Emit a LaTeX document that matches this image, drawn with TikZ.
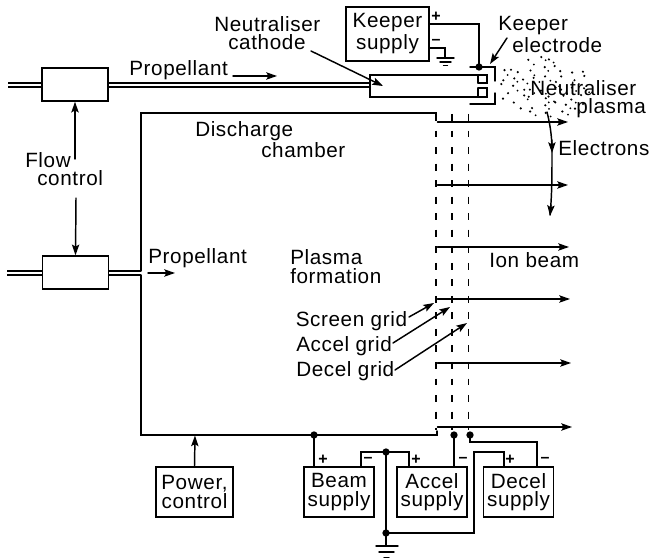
\documentclass[tikz,border=0pt]{standalone}
\usepackage{fontspec}
\setmainfont[LetterSpace=3.0]{Liberation Sans}
\usetikzlibrary{arrows.meta,calc}
\tikzset{
  x=0.75pt,y=-0.75pt,
  ln/.style={line width=1.1pt,line cap=round,line join=miter},
  thin ln/.style={line width=0.9pt},
  arr/.style={ln,-{Stealth[length=8pt,width=5.5pt,inset=1.5pt]}},
  box/.style={draw,line width=1.1pt,inner sep=0pt,minimum width=#1,align=center},
  grid line/.style={line width=1.1pt,dash pattern=on 5.2pt off 7.2pt},
  lab/.style={font=\fontsize{15.5pt}{15pt}\selectfont,inner sep=0pt,anchor=base west},
  sign/.style={font=\bfseries\fontsize{12pt}{12pt}\selectfont,inner sep=0pt},
  dot/.style={circle,fill=black,inner sep=0pt,minimum size=5.5pt},
  twoline/.style={font=\fontsize{15.5pt}{14pt}\selectfont}
}
\begin{document}
\begin{tikzpicture}
\useasboundingbox (0,0) rectangle (653,559);
% flow control boxes
\node[box=49.5pt,minimum height=24.75pt] (fc1) at (75,84.5) {};
\node[box=49.5pt,minimum height=24.75pt] (fc2) at (75.5,272.5) {};
% cathode and small inserts
\coordinate (catTL) at (370,75); \coordinate (catBL) at (370,97);
\coordinate (catTR) at (487,75); \coordinate (catBR) at (487,97);
\draw[ln] (478,83) -- (487,83) -- (catTR) -- (catTL) -- (catBL) -- (catBR) -- (487,88) -- (478,88);
\draw[ln] (478,75) -- (478,83) (478,88) -- (478,97);
% pipes
\foreach \y in {83,87}{
  \draw[thin ln] (8,\y) -- (42.5,\y) (107.5,\y) -- (370,\y);
}
\foreach \y in {271,275}{
  \draw[thin ln] (7,\y) -- (43,\y) (108,\y) -- (141,\y);
}
% chamber
\coordinate (chTL) at (141,113); \coordinate (chBL) at (141,435);
\coordinate (chTR) at (436,113); \coordinate (chBR) at (437,435);
\draw[ln] (436,118) -- (chTR) -- (chTL) -- (141,271) (141,275) -- (chBL) -- (chBR) -- (437,431);
% grids
\foreach \x in {436,452,468.5}{
  \draw[grid line] (\x,114) -- (\x,430);
}
% ion beam arrows
\foreach \y/\e in {122/568,185/568,247/569,299/570,363/571,427/572}{
  \draw[arr] (437.5,\y) -- (\e,\y);
}
% labels main
\node[lab] at (129,76) {Propellant};
\node[lab] (dis) at (195,137) {Discharge};
\node[lab] at (261,158) {chamber};
\node[lab] at (148,264) {Propellant};
\node[lab] at (290,265) {Plasma};
\node[lab] at (290,284) {formation};
\node[lab] (sg) at (295.5,327) {Screen grid};
\node[lab] (ag) at (296,352) {Accel grid};
\node[lab] (dg) at (296,377) {Decel grid};
\node[lab] at (489,268) {Ion beam};
\node[lab] at (558,156) {Electrons};
\node[lab] at (25,168) {Flow};
\node[lab] at (37,186) {control};
\node[lab] at (498,31) {Keeper};
\node[lab] at (512,53) {electrode};
% plasma dots
\pgfmathsetseed{23}
\foreach \gx in {0,...,9}{
  \foreach \gy in {0,...,6}{
    \pgfmathsetmacro{\px}{497+\gx*10.3+rnd*8}
    \pgfmathsetmacro{\py}{57+\gy*9+rnd*7}
    \pgfmathparse{((\px-543.5)/48)^2+((\py-87)/31)^2<1 ? 1 : 0}
    \ifnum\pgfmathresult=1
      \fill (\px,\py) circle (0.9pt);
      \pgfmathsetmacro{\qx}{\px+3+rnd*3}
      \pgfmathsetmacro{\qy}{\py+3+rnd*2}
      \pgfmathparse{rnd<0.55 ? 1 : 0}
      \ifnum\pgfmathresult=1
        \fill (\qx,\qy) circle (0.75pt);
      \fi
    \fi
  }
}
\node[lab] at (530,96) {Neutraliser};
\node[lab] at (576,114) {plasma};
\node[lab] at (214,32) {Neutraliser};
\node[lab] at (228,50) {cathode};
% propellant arrows
\coordinate (p1a) at (233,76); \coordinate (p1b) at (277,76);
\draw[arr] (p1a) -- (p1b);
\coordinate (p2a) at (148,273); \coordinate (p2b) at (175,273);
\draw[arr] (p2a) -- (p2b);
% flow control arrows
\coordinate (f1) at (75,159); \coordinate (f2) at (76,198);
\draw[arr] (f1) -- (fc1.south);
\draw[arr] (f2) -- (fc2.north);
% pointers
\draw[arr] (409,317) -- (434,303);
\draw[arr] (393,343) -- (450,307);
\draw[arr] (395,370) -- (467,323);
\draw[arr] (507,38) -- (490,64);
\draw[arr] (311,51) -- (383,86);
% electron curve
\draw[ln] (547,112) .. controls (551,128) and (552,140) .. (552,152) .. controls (552,175) and (552,195) .. (550,215);
\draw[arr] (551.9,140) -- (552,153);
\draw[arr] (551,205) -- (550,216);
% keeper supply
\node[box=62.25pt,minimum height=40.5pt,font=\fontsize{15.5pt}{16.5pt}\selectfont] (keeper) at (387.5,34) {Keeper\\supply};
\coordinate (kp) at (429,24); \coordinate (kd) at (479,67);
\coordinate (km) at (429,48); \coordinate (kg) at (445,58);
\draw[ln] (kp) -- (479,24) -- (kd);
\draw[ln] (km) -- (445,48) -- (kg);
\node[sign] at (436,17) {+};
\node[sign] at (436,42) {–};
\draw[ln] (437,58) -- (454,58) (440,62) -- (451,62) (443.5,65.5) -- (447.5,65.5);
% electrode
\draw[ln] (470,67) -- (495,67) -- (495,81);
\draw[ln] (495,93) -- (495,104) -- (470,104);
\node[dot] at (kd) {};
% bottom supplies
\node[box=57.75pt,minimum height=37.5pt,twoline] (power) at (194.5,492) {Power,\\control};
\node[box=52.5pt,minimum height=37.5pt,twoline] (beam) at (339,492) {Beam\\supply};
\node[box=52.5pt,minimum height=37.5pt,twoline] (accel) at (432,492) {Accel\\supply};
\node[box=52.5pt,minimum height=37.5pt,twoline] (decel) at (518.5,492) {Decel\\supply};
\draw[arr] (power.north) -- (195,435.5);
\coordinate (jb) at (314,435); \coordinate (ja) at (454,435); \coordinate (jd) at (470,435);
\coordinate (jm) at (386,452); \coordinate (jg) at (386,533); \coordinate (gnd) at (386,546);
\draw[ln] (jb) -- (314,467);
\draw[ln] (361,467) -- (361,452) -- (409,452) -- (409,467);
\draw[ln] (jm) -- (jg) -- (gnd);
\draw[ln] (jg) -- (474,533) -- (474,452) -- (504,452) -- (504,467);
\draw[ln] (537,467) -- (537,442) -- (470,442) -- (jd);
\draw[ln] (ja) -- (454,467);
\foreach \c in {jb,ja,jd,jm,jg}{\node[dot] at (\c) {};}
\draw[ln] (376,546) -- (398,546) (379,552) -- (394,552) (384,557.5) -- (389,557.5);
\foreach \x/\s in {323/+,368/–,416/+,463/–,510/+,545/–}{
  \node[sign] at (\x,460) {\s};
}
\end{tikzpicture}
\end{document}
